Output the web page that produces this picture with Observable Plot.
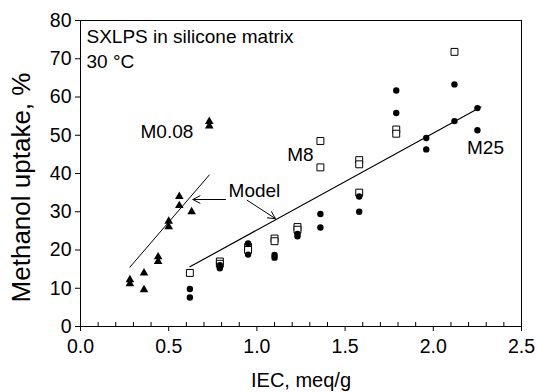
<!DOCTYPE html>
<html><head><meta charset="utf-8">
<script src="https://cdn.jsdelivr.net/npm/d3@7"></script>
<script src="https://cdn.jsdelivr.net/npm/@observablehq/plot@0.6"></script>
<style>
body{margin:0;background:#fff;}
#chart svg{display:block;}
</style></head><body><div id="chart"></div>
<script>
// M0.08 (filled triangles)
const triIEC    = [0.28, 0.28, 0.36, 0.36, 0.44, 0.44, 0.50, 0.50, 0.56, 0.56, 0.63, 0.73, 0.73];
const triUptake = [12.2, 11.2, 14.0, 9.6, 18.2, 17.0, 27.5, 26.1, 34.0, 31.6, 30.0, 53.6, 52.4];
// M8 (open squares)
const sqIEC    = [0.62, 0.79, 0.79, 0.95, 0.95, 1.10, 1.10, 1.23, 1.23, 1.36, 1.36, 1.58, 1.58, 1.58, 1.79, 1.79, 2.12];
const sqUptake = [14.0, 17.0, 16.4, 20.8, 20.0, 23.0, 22.3, 26.0, 25.3, 48.5, 41.6, 43.5, 42.4, 35.0, 51.5, 50.4, 71.8];
// M25 (filled circles)
const dotIEC    = [0.62, 0.62, 0.79, 0.79, 0.95, 0.95, 1.10, 1.10, 1.23, 1.23, 1.36, 1.36, 1.58, 1.58, 1.79, 1.79, 1.96, 1.96, 2.12, 2.12, 2.25, 2.25];
const dotUptake = [9.8, 7.6, 16.0, 15.2, 21.7, 18.8, 18.7, 18.0, 24.2, 23.6, 29.4, 25.9, 34.0, 30.0, 61.7, 55.8, 49.3, 46.3, 63.3, 53.7, 57.1, 51.3];
// Model lines
const modelLowIEC = [0.28, 0.73];
const modelLowUptake = [15.5, 39.6];
const modelHighIEC = [0.62, 2.27];
const modelHighUptake = [15.6, 57.4];
// Annotation labels
const labelText = ["M0.08", "M8", "M25", "Model"];
const labelIEC = [0.49, 1.247, 2.296, 0.986];
const labelUptake = [50.8, 44.8, 46.6, 35.4];
// Arrows from "Model" to the lines
const arrowIEC1 = [0.822, 0.945];
const arrowUptake1 = [33.2, 33.0];
const arrowIEC2 = [0.637, 1.105];
const arrowUptake2 = [33.2, 28.2];
// Axes
const xTicks = [0, 0.5, 1.0, 1.5, 2.0, 2.5];
const xMinor = [0.1,0.2,0.3,0.4,0.6,0.7,0.8,0.9,1.1,1.2,1.3,1.4,1.6,1.7,1.8,1.9,2.1,2.2,2.3,2.4];
const yTicks = [0, 10, 20, 30, 40, 50, 60, 70, 80];
const xLabel = "IEC, meq/g";
const yLabel = "Methanol uptake, %";
const titleText = "SXLPS in silicone matrix\n30 °C";

const pts = (xs, ys) => xs.map((x, i) => ({x, y: ys[i]}));
const tri = pts(triIEC, triUptake);
const sq = pts(sqIEC, sqUptake);
const dt = pts(dotIEC, dotUptake);
const mLow = pts(modelLowIEC, modelLowUptake);
const mHigh = pts(modelHighIEC, modelHighUptake);
const labels = labelText.map((t, i) => ({t, x: labelIEC[i], y: labelUptake[i]}));
const arrows = arrowIEC1.map((x1, i) => ({x1, y1: arrowUptake1[i], x2: arrowIEC2[i], y2: arrowUptake2[i]}));

const font = "'Liberation Sans', Arial, sans-serif";
const chart = Plot.plot({
  width: 537, height: 392,
  marginLeft: 80, marginRight: 16, marginTop: 20, marginBottom: 66,
  style: {fontFamily: font, fontSize: "19px", color: "#000", background: "#fff", overflow: "visible"},
  x: {domain: [0, 2.5]},
  y: {domain: [0, 80]},
  marks: [
    Plot.frame({stroke: "#000", strokeWidth: 1}),
    Plot.axisX({ticks: xMinor, tickSize: -4, tickFormat: () => "", label: null, stroke: "#000"}),
    Plot.axisX({ticks: xTicks, tickSize: 5, tickPadding: 8, tickFormat: d3.format(".1f"), label: null, fontSize: 19.5, stroke: "#000", fill: "#000"}),
    Plot.axisY({ticks: yTicks, tickSize: 5, tickPadding: 4, label: null, fontSize: 19.5, stroke: "#000", fill: "#000"}),
    Plot.text([xLabel], {frameAnchor: "bottom", dy: 54, fontSize: 20, fill: "#000", lineAnchor: "middle"}),
    Plot.text([yLabel], {frameAnchor: "left", textAnchor: "middle", dx: -59, dy: 14, rotate: -90, fontSize: 26, fill: "#000", lineAnchor: "middle"}),
    Plot.text([titleText], {frameAnchor: "top-left", dx: 6, dy: 4, textAnchor: "start", lineAnchor: "top", lineHeight: 1.35, fontSize: 19, fill: "#000"}),
    Plot.line(mLow, {x: "x", y: "y", stroke: "#000", strokeWidth: 1}),
    Plot.line(mHigh, {x: "x", y: "y", stroke: "#000", strokeWidth: 1.2}),
    Plot.arrow(arrows, {x1: "x1", y1: "y1", x2: "x2", y2: "y2", stroke: "#000", strokeWidth: 1, headLength: 12, headAngle: 55}),
    Plot.dot(tri, {x: "x", y: "y", symbol: "triangle", r: 3.2, fill: "#000", stroke: "none"}),
    Plot.dot(sq, {x: "x", y: "y", symbol: "square", r: 3.9, fill: "#fff", stroke: "#000", strokeWidth: 1}),
    Plot.dot(dt, {x: "x", y: "y", symbol: "circle", r: 3.2, fill: "#000", stroke: "none"}),
    Plot.text(labels, {x: "x", y: "y", text: "t", fontSize: 19, fill: "#000", lineAnchor: "middle"})
  ]
});
document.getElementById("chart").appendChild(chart);
</script>
</body></html>
